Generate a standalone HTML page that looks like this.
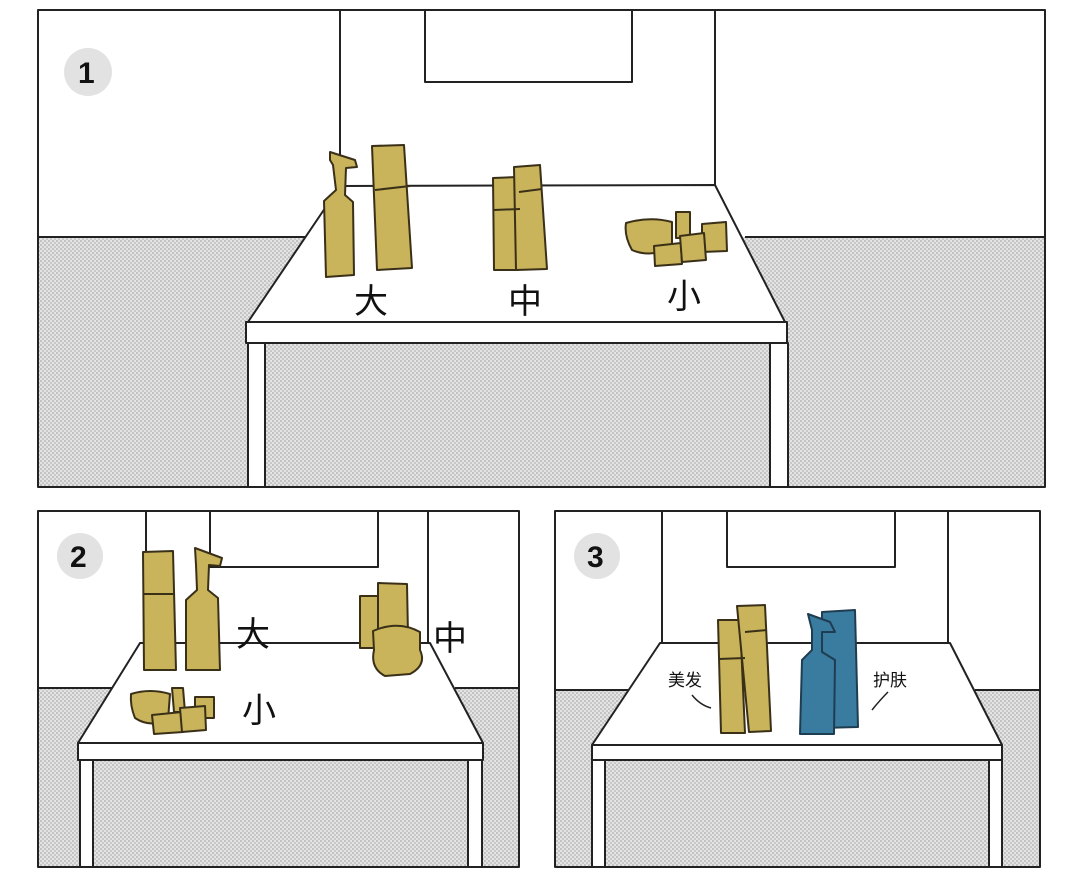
<!DOCTYPE html>
<html><head><meta charset="utf-8"><style>
html,body{margin:0;padding:0;background:#fff;}
svg{display:block;}
text{font-family:"Liberation Sans","Noto Sans CJK SC",sans-serif;fill:#111;}
</style></head><body>
<svg width="1080" height="879" viewBox="0 0 1080 879" xmlns="http://www.w3.org/2000/svg">
<defs>
<pattern id="dots" width="4" height="4" patternUnits="userSpaceOnUse">
<rect width="4" height="4" fill="#e4e4e4"/>
<circle cx="1" cy="1" r="0.8" fill="#9a9a9a"/>
<circle cx="3" cy="3" r="0.8" fill="#a8a8a8"/>
</pattern>
</defs>
<g stroke="#222" stroke-width="2" fill="none" stroke-linejoin="round">
<!-- PANEL 1 -->
<rect x="38" y="10" width="1007" height="477" fill="#fff"/>
<rect x="39" y="237" width="1005" height="249" fill="url(#dots)" stroke="none"/>
<line x1="38" y1="237" x2="305" y2="237"/>
<line x1="745" y1="237" x2="1045" y2="237"/>
<line x1="340" y1="10" x2="340" y2="187"/>
<line x1="715" y1="10" x2="715" y2="187"/>
<polyline points="425,10 425,82 632,82 632,10"/>
<polygon points="340,186 715,185 785,322 248,322" fill="#fff"/>
<rect x="246" y="322" width="541" height="21" fill="#fff"/>
<rect x="248" y="343" width="17" height="144" fill="#fff"/>
<rect x="770" y="343" width="18" height="144" fill="#fff"/>
<circle cx="88" cy="72" r="24" fill="#e2e2e2" stroke="none"/>
<!-- PANEL 2 -->
<rect x="38" y="511" width="481" height="356" fill="#fff"/>
<rect x="39" y="688" width="479" height="178" fill="url(#dots)" stroke="none"/>
<line x1="38" y1="688" x2="112" y2="688"/>
<line x1="455" y1="688" x2="519" y2="688"/>
<line x1="146" y1="511" x2="146" y2="644"/>
<line x1="428" y1="511" x2="428" y2="644"/>
<polyline points="210,511 210,567 378,567 378,511"/>
<polygon points="140,643 430,643 483,743 78,743" fill="#fff"/>
<rect x="78" y="743" width="405" height="17" fill="#fff"/>
<rect x="80" y="760" width="13" height="107" fill="#fff"/>
<rect x="468" y="760" width="14" height="107" fill="#fff"/>
<circle cx="80" cy="556" r="23" fill="#e2e2e2" stroke="none"/>
<!-- PANEL 3 -->
<rect x="555" y="511" width="485" height="356" fill="#fff"/>
<rect x="556" y="690" width="483" height="176" fill="url(#dots)" stroke="none"/>
<line x1="555" y1="690" x2="628" y2="690"/>
<line x1="975" y1="690" x2="1040" y2="690"/>
<line x1="662" y1="511" x2="662" y2="644"/>
<line x1="948" y1="511" x2="948" y2="644"/>
<polyline points="727,511 727,567 895,567 895,511"/>
<polygon points="660,643 950,643 1002,745 592,745" fill="#fff"/>
<rect x="592" y="745" width="410" height="15" fill="#fff"/>
<rect x="592" y="760" width="13" height="107" fill="#fff"/>
<rect x="989" y="760" width="13" height="107" fill="#fff"/>
<circle cx="597" cy="556" r="23" fill="#e2e2e2" stroke="none"/>
</g>
<!-- products -->
<g stroke="#3a3018" stroke-width="2" fill="#c9b35b" stroke-linejoin="round">
<!-- panel1 big -->
<polygon points="330,152 355,160 357,167 346,168 345,195 353,202 354,275 326,277 324,201 336,190 333,165 330,160"/>
<polygon points="372,146 404,145 412,268 377,270"/>
<line x1="375" y1="190" x2="410" y2="186"/>
<!-- panel1 medium -->
<polygon points="493,178 517,177 518,270 494,270"/>
<polygon points="514,167 540,165 547,269 516,270"/>
<line x1="494" y1="210" x2="520" y2="209"/>
<line x1="519" y1="192" x2="542" y2="189"/>
<!-- panel1 small -->
<path d="M626,223 Q650,216 672,222 L672,248 Q650,258 632,250 Q624,236 626,223 Z"/>
<polygon points="676,212 690,212 690,238 676,238"/>
<polygon points="702,224 726,222 727,251 702,252"/>
<polygon points="654,246 681,243 682,264 655,266"/>
<polygon points="680,236 704,233 706,260 682,262"/>
<!-- panel2 big -->
<polygon points="143,552 173,551 176,670 144,670"/>
<line x1="144" y1="594" x2="175" y2="594"/>
<polygon points="195,548 222,558 220,566 209,565 208,590 218,598 220,670 186,670 186,600 197,590 196,565"/>
<!-- panel2 small -->
<path d="M131,694 Q150,688 170,694 L168,720 Q150,728 135,718 Q130,706 131,694 Z"/>
<polygon points="172,688 183,688 185,712 174,712"/>
<polygon points="195,697 214,697 214,718 195,718"/>
<polygon points="152,715 182,712 183,732 154,734"/>
<polygon points="180,708 205,706 206,730 182,732"/>
<!-- panel2 medium -->
<polygon points="360,596 378,596 378,648 360,648"/>
<polygon points="378,583 407,584 408,635 378,635"/>
<path d="M373,631 Q398,620 420,632 L420,650 Q427,665 410,674 L385,676 Q370,668 374,650 Z"/>
<!-- panel3 gold -->
<polygon points="718,620 740,620 745,733 721,733"/>
<polygon points="737,606 765,605 771,731 749,732"/>
<line x1="719" y1="659" x2="745" y2="658"/>
<line x1="745" y1="632" x2="767" y2="630"/>
</g>
<g stroke="#1f3d50" stroke-width="2" fill="#3a7ba0" stroke-linejoin="round">
<polygon points="822,612 855,610 858,727 820,728"/>
<polygon points="808,614 830,622 835,632 822,632 822,652 835,660 834,734 800,734 802,660 812,650 812,630"/>
</g>
<!-- labels -->
<g font-size="34">
<text x="354" y="313" >大</text>
<text x="508" y="313">中</text>
<text x="667" y="308">小</text>
<text x="236" y="646">大</text>
<text x="433" y="650">中</text>
<text x="242" y="722">小</text>
</g>
<g font-size="17">
<text x="668" y="686">美发</text>
<text x="873" y="686">护肤</text>
</g>
<path d="M692,695 Q700,705 711,708" stroke="#222" stroke-width="1.5" fill="none"/>
<path d="M888,692 Q880,700 872,710" stroke="#222" stroke-width="1.5" fill="none"/>
<g font-size="30" font-weight="bold">
<text x="78" y="83">1</text>
<text x="70" y="567">2</text>
<text x="587" y="567">3</text>
</g>
</svg>
</body></html>
